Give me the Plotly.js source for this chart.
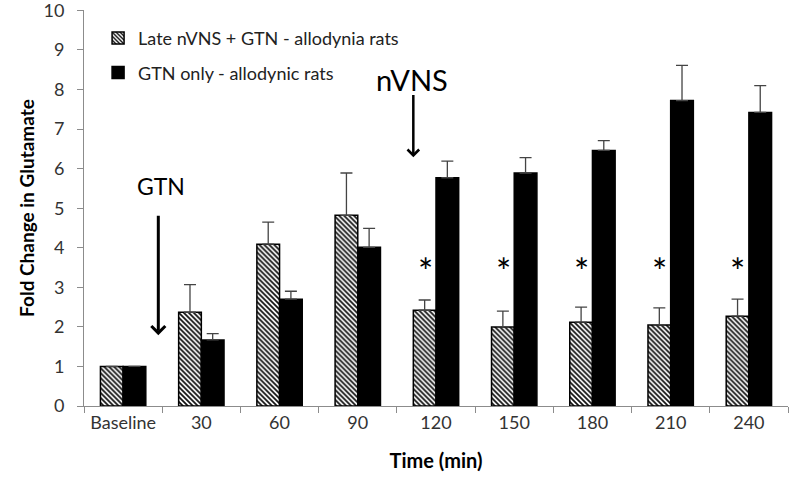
<!DOCTYPE html>
<html>
<head>
<meta charset="utf-8">
<script src="https://cdn.plot.ly/plotly-3.0.1.min.js"></script>
<style>html,body{margin:0;padding:0;background:#fff;}</style>
</head>
<body>
<div id="chart" style="width:800px;height:484px;"></div>
<script>
const categories = ["Baseline", "30", "60", "90", "120", "150", "180", "210", "240"];
const lateNVNS = [1.0, 2.37, 4.09, 4.82, 2.42, 2.00, 2.12, 2.05, 2.27];
const lateNVNSErr = [null, 0.70, 0.56, 1.07, 0.26, 0.40, 0.38, 0.43, 0.43];
const gtnOnly = [1.0, 1.67, 2.70, 4.01, 5.77, 5.89, 6.46, 7.72, 7.42];
const gtnOnlyErr = [null, 0.16, 0.20, 0.48, 0.42, 0.39, 0.25, 0.89, 0.68];
const sigCategories = ["120", "150", "180", "210", "240"];
const sigLevel = 3.56;
const yTicks = [0, 1, 2, 3, 4, 5, 6, 7, 8, 9, 10];
const seriesNames = ["Late nVNS + GTN - allodynia rats", "GTN only - allodynic rats"];

const FONT = "Lato, 'Open Sans', sans-serif";

const traces = [
  {
    type: "bar", name: seriesNames[0], x: categories, y: lateNVNS,
    legendgroup: "a",
    marker: {
      color: "#ffffff",
      line: {color: "#000000", width: 1.5},
      pattern: {shape: "\\", fgcolor: "#111111", bgcolor: "#ffffff", size: 3.5, solidity: 0.5}
    },
    error_y: {type: "data", symmetric: false, array: lateNVNSErr, arrayminus: lateNVNSErr.map(() => 0),
              color: "#444444", thickness: 1.3, width: 6}
  },
  {
    type: "bar", name: seriesNames[1], x: categories, y: gtnOnly,
    legendgroup: "b",
    marker: {color: "#000000", line: {color: "#000000", width: 1.5}},
    error_y: {type: "data", symmetric: false, array: gtnOnlyErr, arrayminus: gtnOnlyErr.map(() => 0),
              color: "#444444", thickness: 1.3, width: 6}
  }
];

const annotations = sigCategories.map(c => ({
  x: categories.indexOf(c), y: sigLevel, xref: "x", yref: "y", text: "*", showarrow: false,
  xshift: -11, yshift: -6, font: {family: FONT, size: 36, color: "#000"}
}));

// event labels and arrows (positions in category-index units)
annotations.push(
  {x: 0.49, y: 5.56, xref: "x", yref: "y", text: "GTN", showarrow: false,
   font: {family: FONT, size: 23, color: "#000"}},
  {x: 0.45, y: 1.79, xref: "x", yref: "y", ax: 0.45, ay: 4.85, axref: "x", ayref: "y",
   text: "", showarrow: true, arrowhead: 4, arrowsize: 0.9, arrowwidth: 3, arrowcolor: "#000"},
  {x: 3.69, y: 8.26, xref: "x", yref: "y", text: "nVNS", showarrow: false,
   font: {family: FONT, size: 29, color: "#000"}},
  {x: 3.71, y: 6.29, xref: "x", yref: "y", ax: 3.71, ay: 7.90, axref: "x", ayref: "y",
   text: "", showarrow: true, arrowhead: 4, arrowsize: 0.9, arrowwidth: 2.5, arrowcolor: "#000"}
);

const layout = {
  width: 800, height: 484,
  margin: {l: 84, r: 12, t: 10, b: 78},
  paper_bgcolor: "#ffffff", plot_bgcolor: "#ffffff",
  font: {family: FONT, size: 18, color: "#222"},
  barmode: "group", bargap: 0.42, bargroupgap: 0,
  showlegend: true,
  legend: {x: 0.02, y: 0.975, xanchor: "left", yanchor: "top", bgcolor: "rgba(0,0,0,0)",
           traceorder: "grouped", tracegroupgap: 8, font: {family: FONT, size: 18, color: "#222"}},
  xaxis: {
    type: "category", range: [-0.5, 8.5], autorange: false,
    showgrid: false, showline: true, linecolor: "#8c8c8c", linewidth: 1,
    ticks: "outside", tickson: "boundaries", ticklen: 6, tickcolor: "#8c8c8c", tickangle: 0,
    tickfont: {family: FONT, size: 18, color: "#333"},
    title: {text: "<b>Time (min)</b>", font: {family: FONT, size: 20, color: "#000"}, standoff: 22},
    zeroline: false
  },
  yaxis: {
    range: [0, 10.01], autorange: false, tickmode: "array", tickvals: yTicks, ticktext: yTicks.map(String),
    ticklabeloverflow: "allow", ticklabelstandoff: 9,
    showgrid: false, showline: true, linecolor: "#8c8c8c", linewidth: 1,
    ticks: "outside", ticklen: 6, tickcolor: "#8c8c8c", zeroline: false,
    tickfont: {family: FONT, size: 18, color: "#333"},
    title: {text: "<b>Fold Change in Glutamate</b>", font: {family: FONT, size: 19, color: "#000"}, standoff: 3}
  },
  annotations: annotations
};

Plotly.newPlot("chart", traces, layout, {displayModeBar: false, staticPlot: true});
</script>
</body>
</html>
